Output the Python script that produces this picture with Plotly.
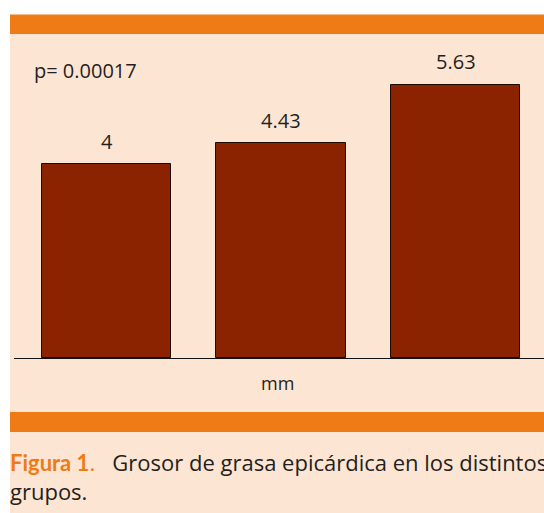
import plotly.graph_objects as go

categories = ["Grupo 1", "Grupo 2", "Grupo 3"]
values = [4.0, 4.43, 5.63]
value_labels = ["4", "4.43", "5.63"]
p_text = "p= 0.00017"
x_title = "mm"

ORANGE = "#EE7B16"
PEACH = "#FDE5D3"
BAR = "#8B2300"
TEXT = "#231F20"
FONT = "Open Sans"

W, H = 544, 513
L, R, T, B = 14, 0, 34, 155
pw = W - L - R
ph = H - T - B


def py(p):
    return (H - B - p) / ph


def px(p):
    return (p - L) / pw


fig = go.Figure()
fig.add_trace(go.Bar(
    x=list(range(len(categories))), y=values, width=0.74,
    marker=dict(color=BAR, line=dict(color="#1a0a00", width=1)),
    hoverinfo="skip", showlegend=False,
))

annotations = []
for i, (v, lab) in enumerate(zip(values, value_labels)):
    annotations.append(dict(x=i, y=v, xref="x", yref="y", text=lab, showarrow=False,
                            yanchor="middle", yshift=23,
                            font=dict(family=FONT, size=20, color=TEXT)))
annotations.append(dict(x=px(32), y=py(71), xref="paper", yref="paper", text=p_text,
                        showarrow=False, xanchor="left", yanchor="middle",
                        font=dict(family=FONT, size=20, color=TEXT)))
annotations.append(dict(x=px(277), y=py(383), xref="paper", yref="paper", text=x_title,
                        showarrow=False, xanchor="center", yanchor="middle",
                        font=dict(family=FONT, size=18, color=TEXT)))
caption = ("<span style='color:%s'><span style='font-family:Lato'><b>Figura 1</b></span>.</span>"
           "&nbsp;&nbsp; Grosor de grasa epicárdica en los distintos"
           "<br>grupos." % ORANGE)
annotations.append(dict(x=px(8), y=py(445), xref="paper", yref="paper", text=caption,
                        showarrow=False, xanchor="left", yanchor="top", align="left",
                        font=dict(family=FONT, size=22, color=TEXT)))

shapes = [
    dict(type="rect", xref="paper", yref="paper", x0=px(10), x1=1.01, y0=py(34), y1=py(14.5),
         fillcolor=ORANGE, line=dict(width=0), layer="below"),
    dict(type="rect", xref="paper", yref="paper", x0=px(10), x1=1.01, y0=py(412), y1=py(34),
         fillcolor=PEACH, line=dict(width=0), layer="below"),
    dict(type="rect", xref="paper", yref="paper", x0=px(10), x1=1.01, y0=py(432), y1=py(412),
         fillcolor=ORANGE, line=dict(width=0), layer="below"),
    dict(type="rect", xref="paper", yref="paper", x0=px(10), x1=1.01, y0=py(520), y1=py(432),
         fillcolor=PEACH, line=dict(width=0), layer="below"),
]

unit = 174.5
left = -92.5 / unit
fig.update_layout(
    width=W, height=H,
    margin=dict(l=L, r=R, t=T, b=B, pad=0),
    paper_bgcolor="white", plot_bgcolor="rgba(0,0,0,0)",
    xaxis=dict(range=[left, left + pw / unit], showticklabels=False, ticks="",
               showgrid=False, zeroline=False, showline=True, linecolor="#111111", linewidth=1),
    yaxis=dict(range=[0, ph / 48.5], visible=False, showgrid=False, zeroline=False),
    shapes=shapes, annotations=annotations, bargap=0,
)

fig.write_html("out.html", config={"displayModeBar": False},
               post_script="document.body.style.margin='0';document.body.style.overflow='hidden';")
